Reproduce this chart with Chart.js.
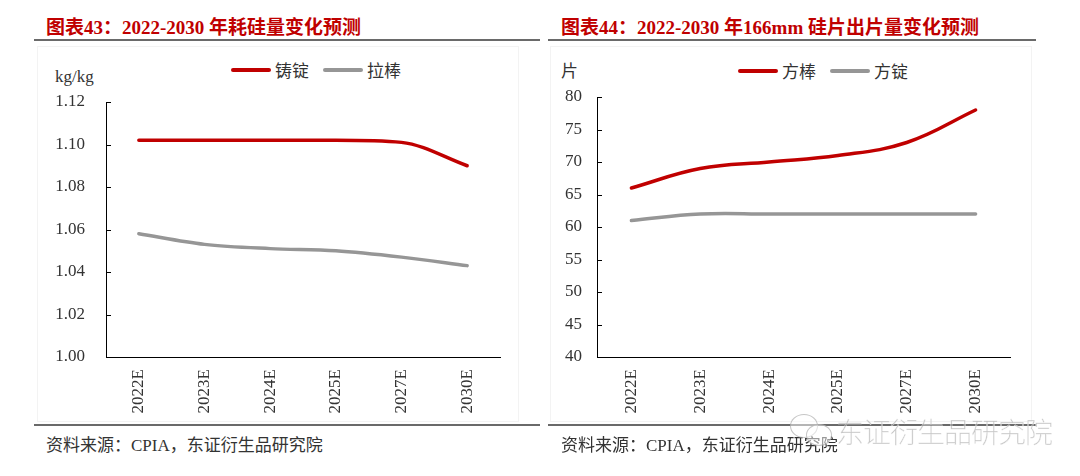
<!DOCTYPE html>
<html>
<head>
<meta charset="utf-8">
<script src="https://cdn.jsdelivr.net/npm/chart.js@4"></script>
<style>
  html, body { margin:0; padding:0; background:#fff; }
  body { width:1080px; height:476px; position:relative; overflow:hidden;
         font-family:"Liberation Serif","Noto Sans CJK SC",serif; }
  .title { position:absolute; top:12px; font-size:19px; font-weight:bold; color:#C00000; white-space:nowrap; }
  .rule { position:absolute; height:2px; background:#6a6a6a; }
  .box { position:absolute; border:1px solid #f3f3f3; }
  .unit { position:absolute; font-size:17px; color:#333; white-space:nowrap; }
  .leg { position:absolute; font-size:17px; color:#333; white-space:nowrap; display:flex; align-items:center; }
  .leg i { display:inline-block; width:40px; height:4px; border-radius:2px; margin-right:4px; }
  .leg span { margin-right:14px; }
  .foot { position:absolute; top:431px; font-size:17px; color:#333; white-space:nowrap; }
  canvas { position:absolute; }
  .wm { position:absolute; left:836px; top:411px; font-size:28px; color:rgba(150,150,150,0.55);
        font-family:"Noto Sans CJK SC",sans-serif; font-weight:300; white-space:nowrap;
        -webkit-text-stroke:0.5px rgba(255,255,255,0.7); letter-spacing:-1px; }
  .wmi { position:absolute; border:1.5px solid rgba(160,160,160,0.6); border-radius:50%; background:rgba(255,255,255,0.5); }
</style>
</head>
<body>
<div class="title" style="left:46px;">图表43：2022-2030 年耗硅量变化预测</div>
<div class="title" style="left:561px;">图表44：2022-2030 年166mm 硅片出片量变化预测</div>
<div class="rule" style="left:34px; width:506px; top:39px;"></div>
<div class="rule" style="left:548px; width:488px; top:39px;"></div>
<div class="box" style="left:37px; top:46px; width:480px; height:374px;"></div>
<div class="box" style="left:550px; top:46px; width:480px; height:374px;"></div>

<div class="unit" style="left:55px; top:67px;">kg/kg</div>
<div class="unit" style="left:561px; top:57px;">片</div>

<div class="leg" id="leg1" style="left:231px; top:57px;"></div>
<div class="leg" id="leg2" style="left:738px; top:58px;"></div>

<canvas id="c1" style="left:37px; top:46px;"></canvas>
<canvas id="c2" style="left:550px; top:46px;"></canvas>

<div class="rule" style="left:34px; width:506px; top:424px;"></div>
<div class="rule" style="left:548px; width:488px; top:424px;"></div>
<div class="foot" style="left:46px;">资料来源：CPIA，东证衍生品研究院</div>
<div class="foot" style="left:561px;">资料来源：CPIA，东证衍生品研究院</div>
<div class="wmi" style="left:790px; top:414px; width:26px; height:22px;"></div>
<div class="wmi" style="left:806px; top:424px; width:24px; height:20px;"></div>
<div class="wm">东证衍生品研究院</div>

<script>
// ---- data ----
const categories = ['2022E', '2023E', '2024E', '2025E', '2027E', '2030E'];

const chart1Labels = ['铸锭', '拉棒'];
const ingotSilicon = [1.102, 1.102, 1.102, 1.102, 1.101, 1.090];
const rodSilicon   = [1.058, 1.053, 1.051, 1.050, 1.047, 1.043];
const chart1Ticks  = { min: 1.00, max: 1.12, step: 0.02 };

const chart2Labels = ['方棒', '方锭'];
const squareRodYield   = [66, 69, 70, 71, 73, 78];
const squareIngotYield = [61, 62, 62, 62, 62, 62];
const chart2Ticks  = { min: 40, max: 80, step: 5 };

const RED = '#C00000';
const GRAY = '#969696';

function legendHTML(id, labels) {
  const colors = [RED, GRAY];
  document.getElementById(id).innerHTML = labels.map((l, i) =>
    '<i style="background:' + colors[i] + '"></i><span>' + l + '</span>').join('');
}
legendHTML('leg1', chart1Labels);
legendHTML('leg2', chart2Labels);

const innerTicks = {
  id: 'innerTicks',
  afterDraw(chart) {
    const y = chart.scales.y;
    const ctx = chart.ctx;
    ctx.save();
    ctx.strokeStyle = '#000';
    ctx.lineWidth = 1;
    y.ticks.forEach((t, i) => {
      const py = Math.round(y.getPixelForTick(i)) + 0.5;
      ctx.beginPath();
      ctx.moveTo(y.right, py);
      ctx.lineTo(y.right + 5, py);
      ctx.stroke();
    });
    ctx.restore();
  }
};

function makeChart(id, w, h, series, labels, ticks, yWidth, xHeight, pad, yPad, decimals, mono) {
  const cv = document.getElementById(id);
  cv.width = w; cv.height = h;
  cv.style.width = w + 'px'; cv.style.height = h + 'px';
  return new Chart(cv, {
    type: 'line',
    data: {
      labels: categories,
      datasets: series.map((s, i) => ({
        label: labels[i],
        data: s,
        borderColor: i === 0 ? RED : GRAY,
        backgroundColor: i === 0 ? RED : GRAY,
        borderWidth: 3.5,
        borderCapStyle: 'round',
        pointRadius: 0,
        tension: 0.4,
        cubicInterpolationMode: mono ? 'monotone' : 'default',
        fill: false
      }))
    },
    options: {
      responsive: false,
      animation: false,
      devicePixelRatio: 1,
      layout: { padding: pad },
      plugins: { legend: { display: false }, tooltip: { enabled: false } },
      scales: {
        x: {
          offset: true,
          grid: { display: false, drawTicks: false },
          border: { display: true, color: '#000', width: 1 },
          ticks: {
            minRotation: 90, maxRotation: 90, padding: 12,
            color: '#333',
            font: { family: 'Liberation Serif', size: 17 }
          },
          afterFit(s) { s.height = xHeight; }
        },
        y: {
          min: ticks.min, max: ticks.max,
          grid: { display: false, drawTicks: false },
          border: { display: true, color: '#000', width: 1 },
          ticks: {
            stepSize: ticks.step, padding: yPad,
            color: '#333',
            font: { family: 'Liberation Serif', size: 17 },
            callback: v => Number(v).toFixed(decimals)
          },
          afterFit(s) { s.width = yWidth; }
        }
      }
    },
    plugins: [innerTicks]
  });
}

makeChart('c1', 482, 375, [ingotSilicon, rodSilicon], chart1Labels, chart1Ticks,
          69, 64, { top: 56, right: 19, left: 0, bottom: 0 }, 21, 2, true);
makeChart('c2', 482, 375, [squareRodYield, squareIngotYield], chart2Labels, chart2Ticks,
          47, 64, { top: 51, right: 22, left: 0, bottom: 0 }, 15, 0, false);
</script>
</body>
</html>
